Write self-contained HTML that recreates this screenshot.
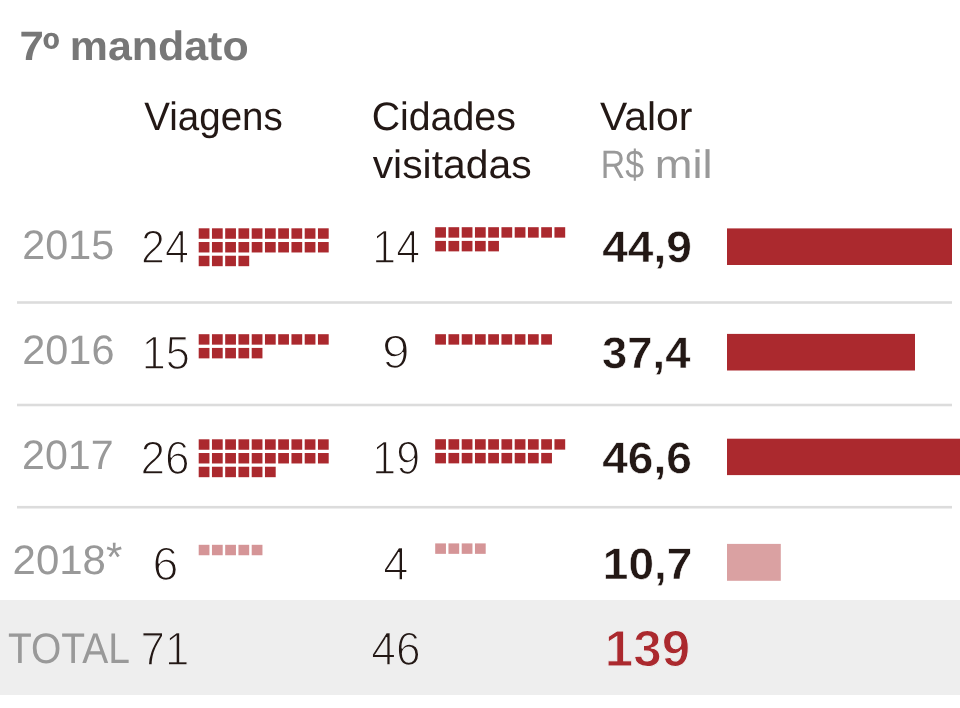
<!DOCTYPE html>
<html lang="pt-BR">
<head>
<meta charset="utf-8">
<title>7º mandato</title>
<style>
html,body{margin:0;padding:0;background:#ffffff;}
body{width:960px;height:708px;overflow:hidden;}
svg{display:block;}
text{font-family:"Liberation Sans", "Noto Sans CJK JP", sans-serif;text-rendering:geometricPrecision;}
</style>
</head>
<body>
<svg width="960" height="708" viewBox="0 0 960 708">
<rect x="0" y="0" width="960" height="708" fill="#ffffff"/>
<rect x="0" y="600" width="960" height="95" fill="#eeeeee"/>
<rect x="17" y="301.20" width="935" height="2.6" fill="#dcdcdc"/>
<rect x="17" y="403.70" width="935" height="2.6" fill="#dcdcdc"/>
<rect x="17" y="505.90" width="935" height="2.6" fill="#dcdcdc"/>
<g>
<rect x="198.70" y="228.30" width="10.75" height="10.45" fill="#ab292e"/>
<rect x="211.95" y="228.30" width="10.75" height="10.45" fill="#ab292e"/>
<rect x="225.20" y="228.30" width="10.75" height="10.45" fill="#ab292e"/>
<rect x="238.45" y="228.30" width="10.75" height="10.45" fill="#ab292e"/>
<rect x="251.70" y="228.30" width="10.75" height="10.45" fill="#ab292e"/>
<rect x="264.95" y="228.30" width="10.75" height="10.45" fill="#ab292e"/>
<rect x="278.20" y="228.30" width="10.75" height="10.45" fill="#ab292e"/>
<rect x="291.45" y="228.30" width="10.75" height="10.45" fill="#ab292e"/>
<rect x="304.70" y="228.30" width="10.75" height="10.45" fill="#ab292e"/>
<rect x="317.95" y="228.30" width="10.75" height="10.45" fill="#ab292e"/>
<rect x="198.70" y="242.02" width="10.75" height="10.45" fill="#ab292e"/>
<rect x="211.95" y="242.02" width="10.75" height="10.45" fill="#ab292e"/>
<rect x="225.20" y="242.02" width="10.75" height="10.45" fill="#ab292e"/>
<rect x="238.45" y="242.02" width="10.75" height="10.45" fill="#ab292e"/>
<rect x="251.70" y="242.02" width="10.75" height="10.45" fill="#ab292e"/>
<rect x="264.95" y="242.02" width="10.75" height="10.45" fill="#ab292e"/>
<rect x="278.20" y="242.02" width="10.75" height="10.45" fill="#ab292e"/>
<rect x="291.45" y="242.02" width="10.75" height="10.45" fill="#ab292e"/>
<rect x="304.70" y="242.02" width="10.75" height="10.45" fill="#ab292e"/>
<rect x="317.95" y="242.02" width="10.75" height="10.45" fill="#ab292e"/>
<rect x="198.70" y="255.74" width="10.75" height="10.45" fill="#ab292e"/>
<rect x="211.95" y="255.74" width="10.75" height="10.45" fill="#ab292e"/>
<rect x="225.20" y="255.74" width="10.75" height="10.45" fill="#ab292e"/>
<rect x="238.45" y="255.74" width="10.75" height="10.45" fill="#ab292e"/>
<rect x="198.70" y="334.20" width="10.75" height="10.45" fill="#ab292e"/>
<rect x="211.95" y="334.20" width="10.75" height="10.45" fill="#ab292e"/>
<rect x="225.20" y="334.20" width="10.75" height="10.45" fill="#ab292e"/>
<rect x="238.45" y="334.20" width="10.75" height="10.45" fill="#ab292e"/>
<rect x="251.70" y="334.20" width="10.75" height="10.45" fill="#ab292e"/>
<rect x="264.95" y="334.20" width="10.75" height="10.45" fill="#ab292e"/>
<rect x="278.20" y="334.20" width="10.75" height="10.45" fill="#ab292e"/>
<rect x="291.45" y="334.20" width="10.75" height="10.45" fill="#ab292e"/>
<rect x="304.70" y="334.20" width="10.75" height="10.45" fill="#ab292e"/>
<rect x="317.95" y="334.20" width="10.75" height="10.45" fill="#ab292e"/>
<rect x="198.70" y="347.92" width="10.75" height="10.45" fill="#ab292e"/>
<rect x="211.95" y="347.92" width="10.75" height="10.45" fill="#ab292e"/>
<rect x="225.20" y="347.92" width="10.75" height="10.45" fill="#ab292e"/>
<rect x="238.45" y="347.92" width="10.75" height="10.45" fill="#ab292e"/>
<rect x="251.70" y="347.92" width="10.75" height="10.45" fill="#ab292e"/>
<rect x="198.70" y="439.30" width="10.75" height="10.45" fill="#ab292e"/>
<rect x="211.95" y="439.30" width="10.75" height="10.45" fill="#ab292e"/>
<rect x="225.20" y="439.30" width="10.75" height="10.45" fill="#ab292e"/>
<rect x="238.45" y="439.30" width="10.75" height="10.45" fill="#ab292e"/>
<rect x="251.70" y="439.30" width="10.75" height="10.45" fill="#ab292e"/>
<rect x="264.95" y="439.30" width="10.75" height="10.45" fill="#ab292e"/>
<rect x="278.20" y="439.30" width="10.75" height="10.45" fill="#ab292e"/>
<rect x="291.45" y="439.30" width="10.75" height="10.45" fill="#ab292e"/>
<rect x="304.70" y="439.30" width="10.75" height="10.45" fill="#ab292e"/>
<rect x="317.95" y="439.30" width="10.75" height="10.45" fill="#ab292e"/>
<rect x="198.70" y="453.02" width="10.75" height="10.45" fill="#ab292e"/>
<rect x="211.95" y="453.02" width="10.75" height="10.45" fill="#ab292e"/>
<rect x="225.20" y="453.02" width="10.75" height="10.45" fill="#ab292e"/>
<rect x="238.45" y="453.02" width="10.75" height="10.45" fill="#ab292e"/>
<rect x="251.70" y="453.02" width="10.75" height="10.45" fill="#ab292e"/>
<rect x="264.95" y="453.02" width="10.75" height="10.45" fill="#ab292e"/>
<rect x="278.20" y="453.02" width="10.75" height="10.45" fill="#ab292e"/>
<rect x="291.45" y="453.02" width="10.75" height="10.45" fill="#ab292e"/>
<rect x="304.70" y="453.02" width="10.75" height="10.45" fill="#ab292e"/>
<rect x="317.95" y="453.02" width="10.75" height="10.45" fill="#ab292e"/>
<rect x="198.70" y="466.74" width="10.75" height="10.45" fill="#ab292e"/>
<rect x="211.95" y="466.74" width="10.75" height="10.45" fill="#ab292e"/>
<rect x="225.20" y="466.74" width="10.75" height="10.45" fill="#ab292e"/>
<rect x="238.45" y="466.74" width="10.75" height="10.45" fill="#ab292e"/>
<rect x="251.70" y="466.74" width="10.75" height="10.45" fill="#ab292e"/>
<rect x="264.95" y="466.74" width="10.75" height="10.45" fill="#ab292e"/>
<rect x="198.70" y="544.80" width="10.75" height="10.45" fill="#d59597"/>
<rect x="211.95" y="544.80" width="10.75" height="10.45" fill="#d59597"/>
<rect x="225.20" y="544.80" width="10.75" height="10.45" fill="#d59597"/>
<rect x="238.45" y="544.80" width="10.75" height="10.45" fill="#d59597"/>
<rect x="251.70" y="544.80" width="10.75" height="10.45" fill="#d59597"/>
</g>
<g>
<rect x="435.20" y="227.20" width="10.75" height="10.45" fill="#ab292e"/>
<rect x="448.45" y="227.20" width="10.75" height="10.45" fill="#ab292e"/>
<rect x="461.70" y="227.20" width="10.75" height="10.45" fill="#ab292e"/>
<rect x="474.95" y="227.20" width="10.75" height="10.45" fill="#ab292e"/>
<rect x="488.20" y="227.20" width="10.75" height="10.45" fill="#ab292e"/>
<rect x="501.45" y="227.20" width="10.75" height="10.45" fill="#ab292e"/>
<rect x="514.70" y="227.20" width="10.75" height="10.45" fill="#ab292e"/>
<rect x="527.95" y="227.20" width="10.75" height="10.45" fill="#ab292e"/>
<rect x="541.20" y="227.20" width="10.75" height="10.45" fill="#ab292e"/>
<rect x="554.45" y="227.20" width="10.75" height="10.45" fill="#ab292e"/>
<rect x="435.20" y="240.92" width="10.75" height="10.45" fill="#ab292e"/>
<rect x="448.45" y="240.92" width="10.75" height="10.45" fill="#ab292e"/>
<rect x="461.70" y="240.92" width="10.75" height="10.45" fill="#ab292e"/>
<rect x="474.95" y="240.92" width="10.75" height="10.45" fill="#ab292e"/>
<rect x="488.20" y="240.92" width="10.75" height="10.45" fill="#ab292e"/>
<rect x="435.20" y="334.20" width="10.75" height="10.45" fill="#ab292e"/>
<rect x="448.45" y="334.20" width="10.75" height="10.45" fill="#ab292e"/>
<rect x="461.70" y="334.20" width="10.75" height="10.45" fill="#ab292e"/>
<rect x="474.95" y="334.20" width="10.75" height="10.45" fill="#ab292e"/>
<rect x="488.20" y="334.20" width="10.75" height="10.45" fill="#ab292e"/>
<rect x="501.45" y="334.20" width="10.75" height="10.45" fill="#ab292e"/>
<rect x="514.70" y="334.20" width="10.75" height="10.45" fill="#ab292e"/>
<rect x="527.95" y="334.20" width="10.75" height="10.45" fill="#ab292e"/>
<rect x="541.20" y="334.20" width="10.75" height="10.45" fill="#ab292e"/>
<rect x="435.20" y="439.20" width="10.75" height="10.45" fill="#ab292e"/>
<rect x="448.45" y="439.20" width="10.75" height="10.45" fill="#ab292e"/>
<rect x="461.70" y="439.20" width="10.75" height="10.45" fill="#ab292e"/>
<rect x="474.95" y="439.20" width="10.75" height="10.45" fill="#ab292e"/>
<rect x="488.20" y="439.20" width="10.75" height="10.45" fill="#ab292e"/>
<rect x="501.45" y="439.20" width="10.75" height="10.45" fill="#ab292e"/>
<rect x="514.70" y="439.20" width="10.75" height="10.45" fill="#ab292e"/>
<rect x="527.95" y="439.20" width="10.75" height="10.45" fill="#ab292e"/>
<rect x="541.20" y="439.20" width="10.75" height="10.45" fill="#ab292e"/>
<rect x="554.45" y="439.20" width="10.75" height="10.45" fill="#ab292e"/>
<rect x="435.20" y="452.92" width="10.75" height="10.45" fill="#ab292e"/>
<rect x="448.45" y="452.92" width="10.75" height="10.45" fill="#ab292e"/>
<rect x="461.70" y="452.92" width="10.75" height="10.45" fill="#ab292e"/>
<rect x="474.95" y="452.92" width="10.75" height="10.45" fill="#ab292e"/>
<rect x="488.20" y="452.92" width="10.75" height="10.45" fill="#ab292e"/>
<rect x="501.45" y="452.92" width="10.75" height="10.45" fill="#ab292e"/>
<rect x="514.70" y="452.92" width="10.75" height="10.45" fill="#ab292e"/>
<rect x="527.95" y="452.92" width="10.75" height="10.45" fill="#ab292e"/>
<rect x="541.20" y="452.92" width="10.75" height="10.45" fill="#ab292e"/>
<rect x="435.20" y="543.40" width="10.75" height="10.45" fill="#d59597"/>
<rect x="448.45" y="543.40" width="10.75" height="10.45" fill="#d59597"/>
<rect x="461.70" y="543.40" width="10.75" height="10.45" fill="#d59597"/>
<rect x="474.95" y="543.40" width="10.75" height="10.45" fill="#d59597"/>
</g>
<rect x="727" y="228.4" width="225" height="36.6" fill="#ab292e"/>
<rect x="727" y="333.9" width="188" height="36.6" fill="#ab292e"/>
<rect x="727" y="438.7" width="233" height="36.4" fill="#ab292e"/>
<rect x="727" y="543.9" width="53.8" height="36.9" fill="#daa1a2"/>
<text font-weight="bold" fill="#777777" xml:space="preserve"><tspan x="19.40" y="60.00" font-size="41" textLength="24.40" lengthAdjust="spacingAndGlyphs">7</tspan><tspan x="42.52" y="65.90" font-size="48" textLength="17.24" lengthAdjust="spacingAndGlyphs">º</tspan><tspan x="57.82" y="60.00" font-size="41" textLength="190.81" lengthAdjust="spacingAndGlyphs"> mandato</tspan></text>
<text x="144.27" y="130.30" font-size="39.8" font-weight="normal" fill="#231815" textLength="138.54" lengthAdjust="spacingAndGlyphs">Viagens</text>
<text x="371.64" y="130.30" font-size="39.8" font-weight="normal" fill="#231815" textLength="144.15" lengthAdjust="spacingAndGlyphs">Cidades</text>
<text x="372.65" y="178.00" font-size="39.8" font-weight="normal" fill="#231815" textLength="158.93" lengthAdjust="spacingAndGlyphs">visitadas</text>
<text x="600.00" y="130.30" font-size="39.8" font-weight="normal" fill="#231815" textLength="92.45" lengthAdjust="spacingAndGlyphs">Valor</text>
<text font-size="39.8" fill="#999999" xml:space="preserve"><tspan x="600.85" y="177.80" textLength="43.23" lengthAdjust="spacingAndGlyphs">R$</tspan><tspan x="642.25" y="177.80" textLength="70.41" lengthAdjust="spacingAndGlyphs"> mil</tspan></text>
<text x="22.29" y="259.10" font-size="41.2" font-weight="normal" fill="#999999" textLength="91.85" lengthAdjust="spacingAndGlyphs">2015</text>
<text x="22.30" y="364.10" font-size="41.2" font-weight="normal" fill="#999999" textLength="92.12" lengthAdjust="spacingAndGlyphs">2016</text>
<text x="22.08" y="468.85" font-size="41.2" font-weight="normal" fill="#999999" textLength="91.54" lengthAdjust="spacingAndGlyphs">2017</text>
<text x="12.60" y="573.85" font-size="41.2" font-weight="normal" fill="#999999" textLength="109.69" lengthAdjust="spacingAndGlyphs">2018<tspan dy="-3.3">*</tspan></text>
<text x="7.91" y="662.60" font-size="42.8" font-weight="normal" fill="#999999" textLength="122.05" lengthAdjust="spacingAndGlyphs">TOTAL</text>
<text x="141.12" y="263.10" font-size="47" font-weight="normal" fill="#231815" stroke="#ffffff" stroke-width="1.4" textLength="47.86" lengthAdjust="spacingAndGlyphs">24</text>
<text x="141.63" y="368.80" font-size="47" font-weight="normal" fill="#231815" stroke="#ffffff" stroke-width="1.4" textLength="48.22" lengthAdjust="spacingAndGlyphs">15</text>
<text x="140.48" y="474.30" font-size="47" font-weight="normal" fill="#231815" stroke="#ffffff" stroke-width="1.4" textLength="49.24" lengthAdjust="spacingAndGlyphs">26</text>
<text x="152.56" y="579.80" font-size="47" font-weight="normal" fill="#231815" stroke="#ffffff" stroke-width="1.4" textLength="25.95" lengthAdjust="spacingAndGlyphs">6</text>
<text x="140.55" y="665.30" font-size="47" font-weight="normal" fill="#231815" stroke="#eeeeee" stroke-width="1.4" textLength="48.73" lengthAdjust="spacingAndGlyphs">71</text>
<text x="372.35" y="262.80" font-size="47" font-weight="normal" fill="#231815" stroke="#ffffff" stroke-width="1.4" textLength="47.61" lengthAdjust="spacingAndGlyphs">14</text>
<text x="381.91" y="368.30" font-size="47" font-weight="normal" fill="#231815" stroke="#ffffff" stroke-width="1.4" textLength="27.66" lengthAdjust="spacingAndGlyphs">9</text>
<text x="372.28" y="473.80" font-size="47" font-weight="normal" fill="#231815" stroke="#ffffff" stroke-width="1.4" textLength="47.80" lengthAdjust="spacingAndGlyphs">19</text>
<text x="383.32" y="579.80" font-size="47" font-weight="normal" fill="#231815" stroke="#ffffff" stroke-width="1.4" textLength="25.11" lengthAdjust="spacingAndGlyphs">4</text>
<text x="371.28" y="665.10" font-size="47" font-weight="normal" fill="#231815" stroke="#eeeeee" stroke-width="1.4" textLength="49.33" lengthAdjust="spacingAndGlyphs">46</text>
<text x="602.19" y="262.00" font-size="44" font-weight="bold" fill="#231815" stroke="#ffffff" stroke-width="0.5" textLength="89.72" lengthAdjust="spacingAndGlyphs">44,9</text>
<text x="602.10" y="367.75" font-size="44" font-weight="bold" fill="#231815" stroke="#ffffff" stroke-width="0.5" textLength="88.31" lengthAdjust="spacingAndGlyphs">37,4</text>
<text x="602.19" y="473.25" font-size="44" font-weight="bold" fill="#231815" stroke="#ffffff" stroke-width="0.5" textLength="89.71" lengthAdjust="spacingAndGlyphs">46,6</text>
<text x="602.87" y="579.00" font-size="44" font-weight="bold" fill="#231815" stroke="#ffffff" stroke-width="0.5" textLength="89.38" lengthAdjust="spacingAndGlyphs">10,7</text>
<text x="604.85" y="666.00" font-size="51" font-weight="bold" fill="#ab292e" stroke="#eeeeee" stroke-width="1.1" textLength="85.39" lengthAdjust="spacingAndGlyphs">139</text>
</svg>
</body>
</html>
